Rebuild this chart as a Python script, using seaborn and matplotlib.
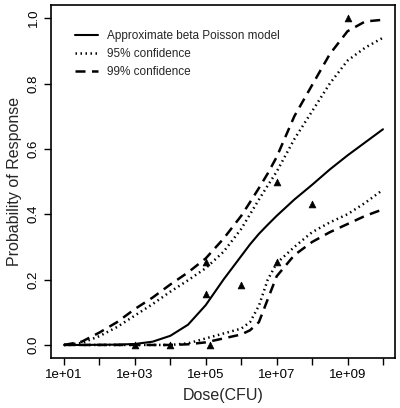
import numpy as np
import matplotlib
matplotlib.use("Agg")
import matplotlib.pyplot as plt
import seaborn as sns

log_dose = np.array([1, 1.5, 2, 2.5, 3, 3.5, 4, 4.5, 5, 5.5, 6, 6.25, 6.5,
                     6.75, 7, 7.5, 8, 8.5, 9, 9.5, 10])
dose = 10 ** log_dose

model = [0, 0, 0.0005, 0.001, 0.003, 0.01, 0.028, 0.062, 0.122, 0.2, 0.272,
         0.308, 0.34, 0.368, 0.395, 0.445, 0.49, 0.537, 0.58, 0.62, 0.66]
upper95 = [0, 0.006, 0.027, 0.055, 0.09, 0.125, 0.163, 0.198, 0.235, 0.285,
           0.355, 0.40, 0.445, 0.488, 0.53, 0.63, 0.715, 0.80, 0.87, 0.91, 0.94]
lower95 = [0, 0, 0, 0, 0, 0, 0, 0.005, 0.02, 0.035, 0.05, 0.07, 0.12, 0.20,
           0.25, 0.30, 0.345, 0.375, 0.40, 0.435, 0.475]
upper99 = [0, 0.01, 0.038, 0.07, 0.11, 0.145, 0.185, 0.222, 0.265, 0.325,
           0.395, 0.437, 0.48, 0.525, 0.575, 0.70, 0.795, 0.89, 0.96, 0.99, 0.995]
lower99 = [0, 0, 0, 0, 0, 0, 0, 0.002, 0.008, 0.02, 0.032, 0.045, 0.07, 0.14,
           0.21, 0.275, 0.315, 0.345, 0.37, 0.395, 0.415]

# Observed data
obs_dose = [1e3, 1e4, 1.3e5, 1e5, 1e5, 1e6, 1e7, 1e7, 1e8, 1e9]
obs_resp = [0, 0, 0, 0.157, 0.255, 0.184, 0.255, 0.50, 0.43, 1.0]

xticks = [10.0 ** k for k in range(1, 11)]
xticklabels = ["1e+01", "", "1e+03", "", "1e+05", "", "1e+07", "", "1e+09", ""]
yticks = [0.0, 0.2, 0.4, 0.6, 0.8, 1.0]

sns.set_style("ticks")
plt.rcParams["font.family"] = ["Liberation Sans", "DejaVu Sans"]

fig = plt.figure(figsize=(4.0, 4.08), dpi=100)
ax = fig.add_axes([0.1275, 0.1225, 0.86, 0.865])

sns.lineplot(x=dose, y=model, ax=ax, color="black", lw=1.5,
             label="Approximate beta Poisson model")
sns.lineplot(x=dose, y=upper95, ax=ax, color="black", lw=1.8,
             linestyle=(0, (0.6, 1.4)), label="95% confidence")
sns.lineplot(x=dose, y=lower95, ax=ax, color="black", lw=1.8,
             linestyle=(0, (0.6, 1.4)))
sns.lineplot(x=dose, y=upper99, ax=ax, color="black", lw=1.8,
             linestyle=(0, (4, 2.6)), label="99% confidence")
sns.lineplot(x=dose, y=lower99, ax=ax, color="black", lw=1.8,
             linestyle=(0, (4, 2.6)))
sns.scatterplot(x=obs_dose, y=obs_resp, ax=ax, marker="^", color="black",
                s=24, edgecolor="black", linewidth=0.5, zorder=5)

ax.set_xscale("log")
ax.set_xlim(10 ** 0.633, 10 ** 10.34)
ax.set_ylim(-0.04, 1.04)
ax.set_xticks(xticks)
ax.set_xticklabels(xticklabels)
ax.minorticks_off()
ax.set_yticks(yticks)
ax.set_yticklabels(["0.0", "0.2", "0.4", "0.6", "0.8", "1.0"],
                   rotation=90, va="center")
ax.tick_params(axis="both", length=5, width=1, labelsize=9.5, colors="black",
               direction="out")
ax.tick_params(axis="x", pad=3)
ax.tick_params(axis="y", pad=3)
for s in ax.spines.values():
    s.set_visible(True)
    s.set_color("black")
    s.set_linewidth(1.2)

ax.set_xlabel("Dose(CFU)", fontsize=11.5, labelpad=5)
ax.set_ylabel("Probability of Response", fontsize=11.5, labelpad=4)

leg = ax.legend(loc="upper left", bbox_to_anchor=(0.038, 0.96), frameon=False,
                handlelength=2.0, handletextpad=0.7, labelspacing=0.52,
                prop={"size": 8.5})

fig.savefig("out.png", dpi=100, facecolor="white")
